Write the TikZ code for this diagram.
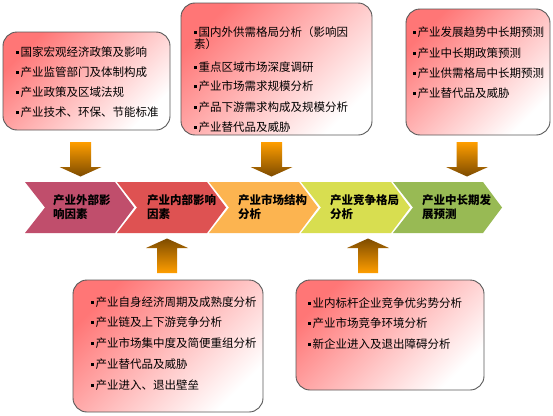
\documentclass[tikz,border=0pt]{standalone}
\usepackage{fontspec}
\newfontfamily\cjk{Noto Sans CJK SC}
\definecolor{boxpink}{RGB}{255,118,118}
\definecolor{arrorange}{RGB}{255,158,0}
\definecolor{arrbrown}{RGB}{125,75,0}
\definecolor{cA}{RGB}{192,78,108}
\definecolor{cB}{RGB}{222,82,82}
\definecolor{cC}{RGB}{252,180,80}
\definecolor{cD}{RGB}{216,222,80}
\definecolor{cE}{RGB}{152,186,84}
\newcommand{\blt}{\rule[2.6pt]{3pt}{3pt}\hspace{1.5pt}}
\begin{document}
\begin{tikzpicture}[x=1pt,y=-1pt,
  infobox/.style={draw=black!65, line width=0.9pt, rounded corners=14pt,
    shading=axis, top color=boxpink, bottom color=white, shading angle=45},
  itemtext/.style={anchor=west, inner sep=0pt, font=\cjk\fontsize{11.5}{13}\selectfont},
  chevtext/.style={anchor=west, inner sep=0pt, align=left,
    font=\cjk\bfseries\fontsize{11.5}{13.5}\selectfont},
  downarr/.style={top color=arrorange, bottom color=arrbrown, draw=none},
  uparr/.style={top color=arrbrown, bottom color=arrorange, draw=none}]
\useasboundingbox (0,0) rectangle (553,415);
\fill[white] (0,0) rectangle (553,415);

% info boxes
\path[infobox] (3,32) rectangle (170,130);
\path[infobox] (181,3) rectangle (372,135);
\path[infobox] (406,9) rectangle (550,135);
\path[infobox] (73,280) rectangle (263,412);
\path[infobox] (296,280) rectangle (484,390);

% box 1 text
\node[itemtext] (a1) at (16,52) {\blt 国家宏观经济政策及影响};
\node[itemtext] (a2) at (16,72) {\blt 产业监管部门及体制构成};
\node[itemtext] (a3) at (16,92) {\blt 产业政策及区域法规};
\node[itemtext] (a4) at (16,112.5) {\blt 产业技术、环保、节能标准};
% box 2 text
\node[itemtext] (b1) at (194,32) {\blt 国内外供需格局分析（影响因};
\node[itemtext] (b1x) at (194,44.5) {素）};
\node[itemtext] (b2) at (194,67) {\blt 重点区域市场深度调研};
\node[itemtext] (b3) at (194,86.5) {\blt 产业市场需求规模分析};
\node[itemtext] (b4) at (194,107) {\blt 产品下游需求构成及规模分析};
\node[itemtext] (b5) at (194,127) {\blt 产业替代品及威胁};
% box 3 text
\node[itemtext] (c1) at (413,32) {\blt 产业发展趋势中长期预测};
\node[itemtext] (c2) at (413,53) {\blt 产业中长期政策预测};
\node[itemtext] (c3) at (413,73) {\blt 产业供需格局中长期预测};
\node[itemtext] (c4) at (413,93) {\blt 产业替代品及威胁};
% box 4 text
\node[itemtext] (d1) at (91,302) {\blt 产业自身经济周期及成熟度分析};
\node[itemtext] (d2) at (91,322) {\blt 产业链及上下游竞争分析};
\node[itemtext] (d3) at (91,343) {\blt 产业市场集中度及简便重组分析};
\node[itemtext] (d4) at (91,364) {\blt 产业替代品及威胁};
\node[itemtext] (d5) at (91,385) {\blt 产业进入、退出壁垒};
% box 5 text
\node[itemtext] (e1) at (308,303) {\blt 业内标杆企业竞争优劣势分析};
\node[itemtext] (e2) at (308,323) {\blt 产业市场竞争环境分析};
\node[itemtext] (e3) at (308,344) {\blt 新企业进入及退出障碍分析};

% chevrons
\foreach \i/\col in {0/cA,1/cB,2/cC,3/cD,4/cE}{
  \pgfmathsetmacro{\xx}{25+92*\i}
  \fill[\col] (\xx,182) -- ++(90,0) -- ++(19,25.5) -- ++(-19,25.5)
     -- ++(-90,0) -- ++(20,-25.5) -- cycle;
}
\node[chevtext] (t1) at (53,207) {产业外部影\\响因素};
\node[chevtext] (t2) at (147,207) {产业内部影响\\因素};
\node[chevtext] (t3) at (238,207) {产业市场结构\\分析};
\node[chevtext] (t4) at (330,207) {产业竞争格局\\分析};
\node[chevtext] (t5) at (422,207) {产业中长期发\\展预测};

% down arrows
\foreach \cx in {80.5,271.5,467}{
  \path[downarr] (\cx-10.5,142) -- (\cx+10.5,142) -- (\cx+10.5,167) -- (\cx+21,167)
     -- (\cx,176.5) -- (\cx-21,167) -- (\cx-10.5,167) -- cycle;
}
% up arrows
\foreach \cx in {167,368}{
  \path[uparr] (\cx-10,273) -- (\cx+10,273) -- (\cx+10,248) -- (\cx+21,248)
     -- (\cx,238.5) -- (\cx-21,248) -- (\cx-10,248) -- cycle;
}
\end{tikzpicture}
\end{document}
